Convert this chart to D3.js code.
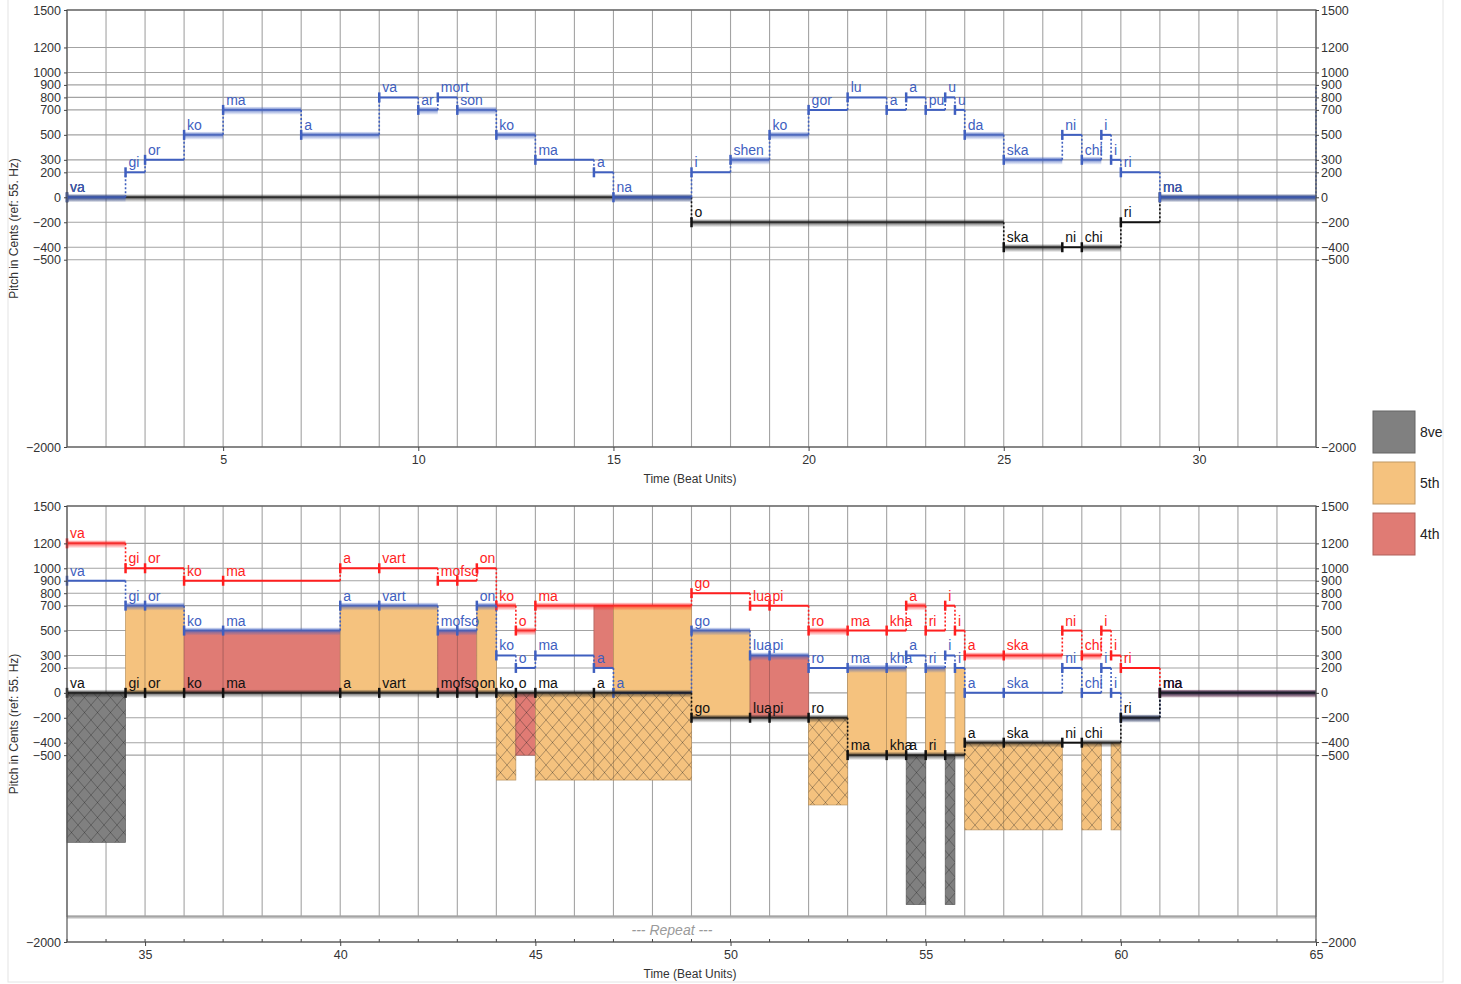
<!DOCTYPE html>
<html>
<head>
<meta charset="utf-8">
<script src="https://cdn.jsdelivr.net/npm/d3@7"></script>
<style>
body { margin: 0; background: #fff; }
text { font-family: "Liberation Sans", Arial, sans-serif; }
</style>
</head>
<body>
<div id="root"></div>
<script>
// Each note: [start beat, end beat, cents, syllable, blurred]
var topBlue = [
	[1, 2.5, 0, "va", 1], [2.5, 3, 200, "gi", 0], [3, 4, 300, "or", 0],
	[4, 5, 500, "ko", 1], [5, 7, 700, "ma", 1], [7, 9, 500, "a", 1],
	[9, 10, 800, "va", 0], [10, 10.5, 700, "ar", 1], [10.5, 11, 800, "mort", 0],
	[11, 12, 700, "son", 1], [12, 13, 500, "ko", 1], [13, 14.5, 300, "ma", 0],
	[14.5, 15, 200, "a", 0], [15, 17, 0, "na", 1], [17, 18, 200, "i", 0],
	[18, 19, 300, "shen", 1], [19, 20, 500, "ko", 1], [20, 21, 700, "gor", 0],
	[21, 22, 800, "lu", 0], [22, 22.5, 700, "a", 0], [22.5, 23, 800, "a", 0],
	[23, 23.5, 700, "pu", 0], [23.5, 23.75, 800, "u", 0], [23.75, 24, 700, "u", 0],
	[24, 25, 500, "da", 1], [25, 26.5, 300, "ska", 1], [26.5, 27, 500, "ni", 0],
	[27, 27.5, 300, "chi", 1], [27.5, 27.75, 500, "i", 0], [27.75, 28, 300, "i", 0],
	[28, 29, 200, "ri", 0], [29, 33, 0, "ma", 1]
];
var topBlack = [
	[1, 17, 0, "va", 1], [17, 25, -200, "o", 1], [25, 26.5, -400, "ska", 1],
	[26.5, 27, -400, "ni", 0], [27, 28, -400, "chi", 1], [28, 29, -200, "ri", 0],
	[29, 33, 0, "ma", 1]
];

var botRed = [
	[33, 34.5, 1200, "va", 1], [34.5, 35, 1000, "gi", 0], [35, 36, 1000, "or", 0],
	[36, 37, 900, "ko", 0], [37, 40, 900, "ma", 0], [40, 41, 1000, "a", 0],
	[41, 42.5, 1000, "vart", 0], [42.5, 43, 900, "mo", 0], [43, 43.5, 900, "fso", 0],
	[43.5, 44, 1000, "on", 0], [44, 44.5, 700, "ko", 1], [44.5, 45, 500, "o", 1],
	[45, 49, 700, "ma", 1], [49, 50.5, 800, "go", 0], [50.5, 51, 700, "lua", 0],
	[51, 52, 700, "pi", 0], [52, 53, 500, "ro", 1], [53, 54, 500, "ma", 0],
	[54, 54.5, 500, "kha", 0], [54.5, 55, 700, "a", 1], [55, 55.5, 500, "ri", 0],
	[55.5, 55.75, 700, "i", 0], [55.75, 56, 500, "i", 0], [56, 57, 300, "a", 1],
	[57, 58.5, 300, "ska", 1], [58.5, 59, 500, "ni", 0], [59, 59.5, 300, "chi", 1],
	[59.5, 59.75, 500, "i", 0], [59.75, 60, 300, "i", 0], [60, 61, 200, "ri", 0],
	[61, 65, 0, "ma", 1]
];
var botBlue = [
	[33, 34.5, 900, "va", 0], [34.5, 35, 700, "gi", 1], [35, 36, 700, "or", 1],
	[36, 37, 500, "ko", 1], [37, 40, 500, "ma", 1], [40, 41, 700, "a", 1],
	[41, 42.5, 700, "vart", 1], [42.5, 43, 500, "mo", 1], [43, 43.5, 500, "fso", 1],
	[43.5, 44, 700, "on", 1], [44, 44.5, 300, "ko", 0], [44.5, 45, 200, "o", 0],
	[45, 46.5, 300, "ma", 0], [46.5, 47, 200, "a", 0], [47, 49, 0, "a", 0],
	[49, 50.5, 500, "go", 1], [50.5, 51, 300, "lua", 1], [51, 52, 300, "pi", 1],
	[52, 53, 200, "ro", 0], [53, 54, 200, "ma", 1], [54, 54.5, 200, "kha", 1],
	[54.5, 55, 300, "a", 0], [55, 55.5, 200, "ri", 1], [55.5, 55.75, 300, "i", 0],
	[55.75, 56, 200, "i", 0], [56, 57, 0, "a", 0], [57, 58.5, 0, "ska", 0],
	[58.5, 59, 200, "ni", 0], [59, 59.5, 0, "chi", 0], [59.5, 59.75, 200, "i", 0],
	[59.75, 60, 0, "i", 0], [60, 61, -200, "", 1], [61, 65, 0, "ma", 1]
];
var botBlack = [
	[33, 34.5, 0, "va", 1], [34.5, 35, 0, "gi", 1], [35, 36, 0, "or", 1],
	[36, 37, 0, "ko", 1], [37, 40, 0, "ma", 1], [40, 41, 0, "a", 1],
	[41, 42.5, 0, "vart", 1], [42.5, 43, 0, "mo", 1], [43, 43.5, 0, "fso", 1],
	[43.5, 44, 0, "on", 1], [44, 44.5, 0, "ko", 1], [44.5, 45, 0, "o", 1],
	[45, 46.5, 0, "ma", 1], [46.5, 49, 0, "a", 1], [49, 50.5, -200, "go", 1],
	[50.5, 51, -200, "lua", 1], [51, 52, -200, "pi", 1], [52, 53, -200, "ro", 1],
	[53, 54, -500, "ma", 1], [54, 54.5, -500, "kha", 1], [54.5, 55, -500, "a", 1],
	[55, 55.5, -500, "ri", 1], [55.5, 56, -500, "", 1], [56, 57, -400, "a", 1],
	[57, 58.5, -400, "ska", 1], [58.5, 59, -400, "ni", 0], [59, 60, -400, "chi", 1],
	[60, 61, -200, "ri", 1], [61, 65, 0, "ma", 1]
];

var centTicks = [1500, 1200, 1000, 900, 800, 700, 500, 300, 200, 0, -200, -400, -500, -2000];
var topBeatTicks = [5, 10, 15, 20, 25, 30];
var botBeatTicks = [35, 40, 45, 50, 55, 60, 65];
var intervalNames = ["8ve", "5th", "4th"];
var intervalCents = [1200, 700, 500];
var intervalColors = ["#808080", "#f5c27e", "#e07b74"];

var blue = "#3f5fbf", red = "#ff1e1e", black = "#111";

var width = 1461, height = 984;
var plotLeft = 67, plotRight = 1316;

var svg = d3.select("#root")
	.append("svg")
	.attr("width", width)
	.attr("height", height);

// light outer frame
svg.append("rect")
	.attr("x", 8).attr("y", -1)
	.attr("width", 1435).attr("height", 983)
	.attr("fill", "none")
	.attr("stroke", "#e4e4e4");

var defs = svg.append("defs");

// crosshatch
var hatch = defs.append("pattern")
	.attr("id", "hatch")
	.attr("patternUnits", "userSpaceOnUse")
	.attr("width", 13)
	.attr("height", 15);
hatch.append("path")
	.attr("d", "M0,0 L13,15 M13,0 L0,15")
	.attr("stroke", "#222")
	.attr("stroke-opacity", 0.45)
	.attr("stroke-width", 0.8);

// fading band under blurred notes
function addFade(id, color) {
	var g = defs.append("linearGradient")
		.attr("id", id)
		.attr("x1", "0%").attr("y1", "0%")
		.attr("x2", "0%").attr("y2", "100%");
	g.append("stop").attr("offset", "0%").attr("stop-color", color).attr("stop-opacity", 0.15);
	g.append("stop").attr("offset", "35%").attr("stop-color", color).attr("stop-opacity", 0.75);
	g.append("stop").attr("offset", "100%").attr("stop-color", color).attr("stop-opacity", 0);
}
addFade("fadeBlue", blue);
addFade("fadeRed", red);
addFade("fadeBlack", "#222");

function drawVoice(g, x, y, notes, color, fadeId) {
	// dotted connectors
	notes.forEach(function (d, i) {
		var next = notes[i + 1];
		if (next && next[2] !== d[2]) {
			g.append("line")
				.attr("x1", x(d[1])).attr("x2", x(d[1]))
				.attr("y1", y(d[2])).attr("y2", y(next[2]))
				.attr("stroke", color)
				.attr("stroke-width", 1.6)
				.attr("stroke-dasharray", "2,2");
		}
	});

	// blurred bands
	g.selectAll(null)
		.data(notes.filter(function (d) { return d[4]; }))
		.enter().append("rect")
		.attr("x", function (d) { return x(d[0]); })
		.attr("y", function (d) { return y(d[2]) - 3; })
		.attr("width", function (d) { return x(d[1]) - x(d[0]); })
		.attr("height", 8)
		.attr("fill", "url(#" + fadeId + ")");

	// note lines
	g.selectAll(null)
		.data(notes)
		.enter().append("line")
		.attr("x1", function (d) { return x(d[0]); })
		.attr("x2", function (d) { return x(d[1]); })
		.attr("y1", function (d) { return y(d[2]); })
		.attr("y2", function (d) { return y(d[2]); })
		.attr("stroke", color)
		.attr("stroke-opacity", function (d) { return d[4] ? 0.55 : 1; })
		.attr("stroke-width", 2);

	// start ticks
	g.selectAll(null)
		.data(notes)
		.enter().append("line")
		.attr("x1", function (d) { return x(d[0]); })
		.attr("x2", function (d) { return x(d[0]); })
		.attr("y1", function (d) { return y(d[2]) - 5; })
		.attr("y2", function (d) { return y(d[2]) + 5; })
		.attr("stroke", color)
		.attr("stroke-width", 2.5);

	// syllables
	g.selectAll(null)
		.data(notes)
		.enter().append("text")
		.attr("x", function (d) { return x(d[0]) + 3; })
		.attr("y", function (d) { return y(d[2]) - 5; })
		.text(function (d) { return d[3]; })
		.attr("font-size", 14)
		.attr("fill", color);
}

function pitchAt(notes, t) {
	var n = notes.find(function (d) { return d[0] <= t && t < d[1]; });
	return n ? n[2] : null;
}

function drawPanel(opt) {
	var x = d3.scaleLinear().domain(opt.beats).range([plotLeft, plotRight]);
	var y = d3.scaleLinear().domain([-2000, 1500]).range([opt.bottom, opt.top]);
	var g = svg.append("g");
	var gridBottom = opt.repeat ? y(-1800) : y(-2000);

	// grid
	g.selectAll(null)
		.data(d3.range(opt.beats[0], opt.beats[1] + 1))
		.enter().append("line")
		.attr("x1", function (d) { return x(d); })
		.attr("x2", function (d) { return x(d); })
		.attr("y1", y(1500))
		.attr("y2", gridBottom)
		.attr("stroke", "#a3a3a3")
		.attr("stroke-width", 1.1);
	g.selectAll(null)
		.data(centTicks)
		.enter().append("line")
		.attr("x1", plotLeft)
		.attr("x2", plotRight)
		.attr("y1", function (d) { return y(d); })
		.attr("y2", function (d) { return y(d); })
		.attr("stroke", "#a3a3a3")
		.attr("stroke-width", 1.1);

	// interval fills
	if (opt.fills) {
		var v = opt.voices;
		var cuts = [];
		v.forEach(function (vc) { vc.notes.forEach(function (d) { cuts.push(d[0], d[1]); }); });
		cuts = Array.from(new Set(cuts)).sort(function (a, b) { return a - b; });
		var solid = [], hatched = [];
		for (var i = 0; i < cuts.length - 1; i++) {
			var a = cuts[i], b = cuts[i + 1];
			var pr = pitchAt(v[0].notes, a), pb = pitchAt(v[1].notes, a), pk = pitchAt(v[2].notes, a);
			var k1 = intervalCents.indexOf(pb - pk);
			if (k1 >= 0) solid.push({ a: a, b: b, lo: pk, hi: pb, k: k1 });
			var k2 = intervalCents.indexOf(pr - pb);
			if (k2 >= 0) solid.push({ a: a, b: b, lo: pb, hi: pr, k: k2 });
			var k3 = intervalCents.indexOf(pr - pk);
			if (k3 >= 0) hatched.push({ a: a, b: b, lo: pk - (pr - pk), hi: pk, k: k3 });
		}
		var fillRects = function (data, pattern) {
			g.selectAll(null)
				.data(data)
				.enter().append("rect")
				.attr("x", function (d) { return x(d.a); })
				.attr("y", function (d) { return y(d.hi); })
				.attr("width", function (d) { return x(d.b) - x(d.a); })
				.attr("height", function (d) { return y(d.lo) - y(d.hi); })
				.attr("fill", function (d) { return intervalColors[d.k]; })
				.attr("stroke", function (d) { return d3.color(intervalColors[d.k]).darker(0.8); })
				.attr("stroke-width", 0.7);
			if (pattern) {
				g.selectAll(null)
					.data(data)
					.enter().append("rect")
					.attr("x", function (d) { return x(d.a); })
					.attr("y", function (d) { return y(d.hi); })
					.attr("width", function (d) { return x(d.b) - x(d.a); })
					.attr("height", function (d) { return y(d.lo) - y(d.hi); })
					.attr("fill", "url(#hatch)");
			}
		};
		fillRects(hatched, true);
		fillRects(solid, false);
	}

	// voices
	opt.voices.forEach(function (vc) {
		drawVoice(g, x, y, vc.notes, vc.color, vc.fade);
	});

	// link to the repeat at the right edge
	if (opt.link) {
		g.append("line")
			.attr("x1", plotRight).attr("x2", plotRight)
			.attr("y1", y(opt.link[0])).attr("y2", y(opt.link[1]))
			.attr("stroke", blue)
			.attr("stroke-width", 1.6)
			.attr("stroke-dasharray", "2,2");
	}

	if (opt.repeat) {
		g.append("line")
			.attr("x1", plotLeft).attr("x2", plotRight)
			.attr("y1", gridBottom).attr("y2", gridBottom)
			.attr("stroke", "#bdbdbd")
			.attr("stroke-width", 3);
		g.append("line")
			.attr("x1", plotLeft).attr("x2", plotRight)
			.attr("y1", gridBottom - 1).attr("y2", gridBottom - 1)
			.attr("stroke", "#8a8a8a")
			.attr("stroke-width", 0.8);
		g.append("text")
			.attr("x", x(48.5))
			.attr("y", y(-1900) + 5)
			.attr("text-anchor", "middle")
			.attr("font-size", 14)
			.attr("font-style", "italic")
			.attr("fill", "#9a9a9a")
			.text("--- Repeat ---");
		// minor ticks on the bottom frame
		g.selectAll(null)
			.data(d3.range(opt.beats[0], opt.beats[1] + 1))
			.enter().append("line")
			.attr("x1", function (d) { return x(d); })
			.attr("x2", function (d) { return x(d); })
			.attr("y1", y(-2000))
			.attr("y2", y(-2000) - 3)
			.attr("stroke", "#444");
	}

	// frame
	g.append("rect")
		.attr("x", plotLeft).attr("y", y(1500))
		.attr("width", plotRight - plotLeft)
		.attr("height", y(-2000) - y(1500))
		.attr("fill", "none")
		.attr("stroke", "#555")
		.attr("stroke-width", 1.2);

	// axes
	var minus = function (d) { return d < 0 ? "\u2212" + (-d) : d; };
	var left = g.append("g")
		.attr("transform", "translate(" + plotLeft + ",0)")
		.call(d3.axisLeft(y).tickValues(centTicks).tickSize(3).tickPadding(3).tickFormat(minus));
	var right = g.append("g")
		.attr("transform", "translate(" + plotRight + ",0)")
		.call(d3.axisRight(y).tickValues(centTicks).tickSize(3).tickPadding(2).tickFormat(minus));
	var bottom = g.append("g")
		.attr("transform", "translate(0," + y(-2000) + ")")
		.call(d3.axisBottom(x).tickValues(opt.ticks).tickSize(4).tickPadding(4));
	[left, right, bottom].forEach(function (ax) {
		ax.select(".domain").remove();
		ax.selectAll("line").attr("stroke", "#444");
		ax.selectAll("text")
			.attr("font-size", 12.5)
			.attr("font-family", "Liberation Sans, Arial, sans-serif")
			.attr("fill", "#333");
	});

	// axis titles
	g.append("text")
		.attr("transform", "translate(18," + ((y(1500) + y(-2000)) / 2) + ") rotate(-90)")
		.attr("text-anchor", "middle")
		.attr("font-size", 12)
		.attr("fill", "#333")
		.text("Pitch in Cents (ref: 55. Hz)");
	g.append("text")
		.attr("x", 690)
		.attr("y", y(-2000) + 36)
		.attr("text-anchor", "middle")
		.attr("font-size", 12)
		.attr("fill", "#333")
		.text("Time (Beat Units)");
}

drawPanel({
	beats: [1, 33], top: 10, bottom: 447, ticks: topBeatTicks, fills: false, repeat: false,
	link: [0, botBlue[0][2]],
	voices: [
		{ notes: topBlack, color: black, fade: "fadeBlack" },
		{ notes: topBlue, color: blue, fade: "fadeBlue" }
	]
});

drawPanel({
	beats: [33, 65], top: 506, bottom: 942, ticks: botBeatTicks, fills: true, repeat: true,
	voices: [
		{ notes: botRed, color: red, fade: "fadeRed" },
		{ notes: botBlue, color: blue, fade: "fadeBlue" },
		{ notes: botBlack, color: black, fade: "fadeBlack" }
	]
});

// legend
var legend = svg.selectAll(".legend")
	.data(intervalNames)
	.enter().append("g")
	.attr("transform", function (d, i) { return "translate(1373," + (411 + i * 51) + ")"; });
legend.append("rect")
	.attr("width", 42)
	.attr("height", 42)
	.attr("fill", function (d, i) { return intervalColors[i]; })
	.attr("stroke", function (d, i) { return d3.color(intervalColors[i]).darker(0.7); });
legend.append("text")
	.attr("x", 47)
	.attr("y", 26)
	.attr("font-size", 14)
	.attr("fill", "#222")
	.text(function (d) { return d; });
</script>
</body>
</html>
